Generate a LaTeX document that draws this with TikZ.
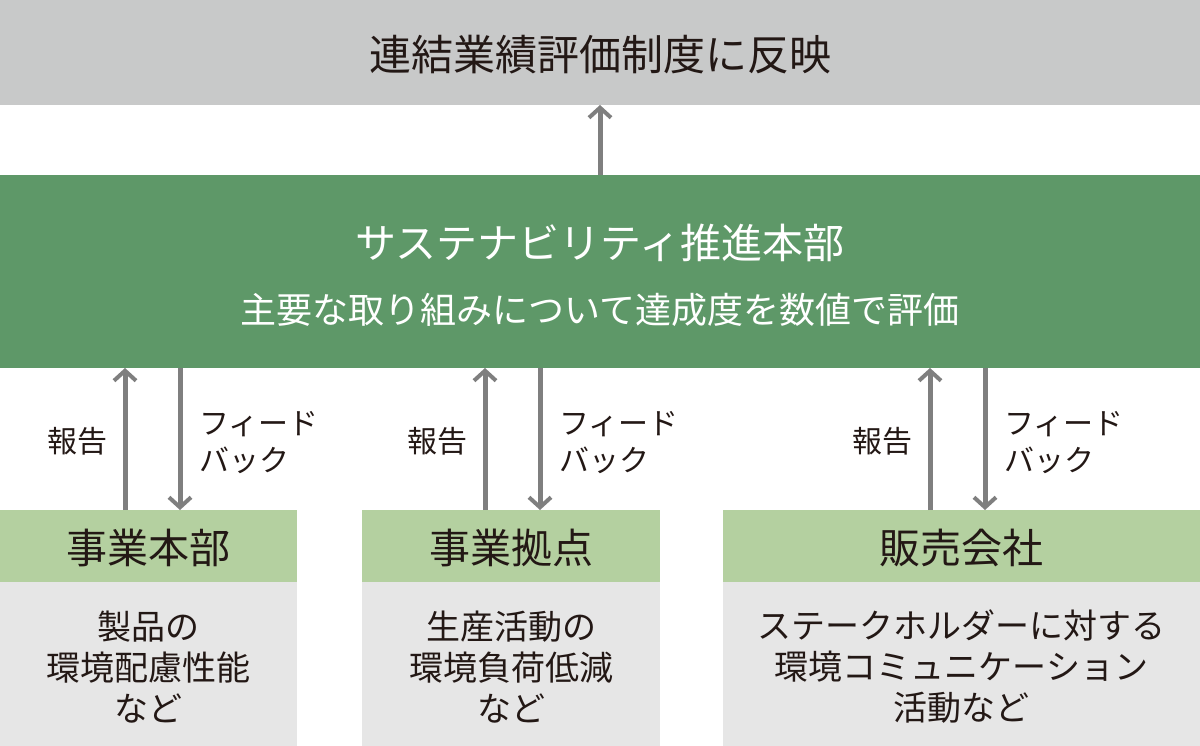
\documentclass[tikz,border=0pt]{standalone}
\usepackage{fontspec}
\setmainfont{Noto Sans CJK JP}
\usetikzlibrary{arrows.meta}
\definecolor{topgray}{HTML}{C8C9C9}
\definecolor{darkgreen}{HTML}{5E9868}
\definecolor{lightgreen}{HTML}{B4D0A0}
\definecolor{bodygray}{HTML}{E6E6E6}
\definecolor{arrowgray}{HTML}{7F7F7F}
\definecolor{txt}{HTML}{231815}
\begin{document}
\begin{tikzpicture}[x=1pt,y=-1pt,
  arr/.style={draw=arrowgray,line width=5pt,-{Straight Barb[length=10pt,width=22pt,line width=4pt]}},
  lab/.style={font=\fontsize{30}{37}\selectfont,text=txt,align=left},
  head/.style={font=\fontsize{41}{46}\selectfont,text=txt},
  body/.style={font=\fontsize{34}{41}\selectfont,text=txt,align=center}]
\useasboundingbox (0,0) rectangle (1200,746);
\fill[topgray] (0,0) rectangle (1200,105);
\node[font=\fontsize{42}{46}\selectfont,text=txt] (top) at (600,55) {連結業績評価制度に反映};
\coordinate (topb) at (600,105);
\fill[darkgreen] (0,175) rectangle (1200,368);
\node[font=\fontsize{41}{46}\selectfont,text=white] (g1) at (600,243) {サステナビリティ推進本部};
\node[font=\fontsize{36}{40}\selectfont,text=white] (g2) at (600,310) {主要な取り組みについて達成度を数値で評価};
\coordinate (gt) at (600,175);
\draw[arr] (gt) -- (topb);
\foreach \xa/\xb/\h/\bt [count=\i] in {0/297/事業本部/{製品の\\環境配慮性能\\など},362/660/事業拠点/{生産活動の\\環境負荷低減\\など},723/1200/販売会社/{ステークホルダーに対する\\環境コミュニケーション\\活動など}}{
  \fill[lightgreen] (\xa,510) rectangle (\xb,582);
  \fill[bodygray] (\xa,582) rectangle (\xb,746);
  \node[head] (h\i) at ({(\xa+\xb)/2},548) {\h};
  \node[body] (b\i) at ({(\xa+\xb)/2},667) {\bt};
}
\foreach \u/\d/\i in {125/180/1,485/540/2,930/985/3}{
  \coordinate (us\i) at (\u,510); \coordinate (ue\i) at (\u,368);
  \coordinate (ds\i) at (\d,368); \coordinate (de\i) at (\d,510);
  \draw[arr] (us\i) -- (ue\i);
  \draw[arr] (ds\i) -- (de\i);
  \node[lab,anchor=east] (r\i) at (\u-14,441) {報告};
  \node[lab,anchor=west] (f\i) at (\d+16,443) {フィード\\バック};
}
\end{tikzpicture}
\end{document}
